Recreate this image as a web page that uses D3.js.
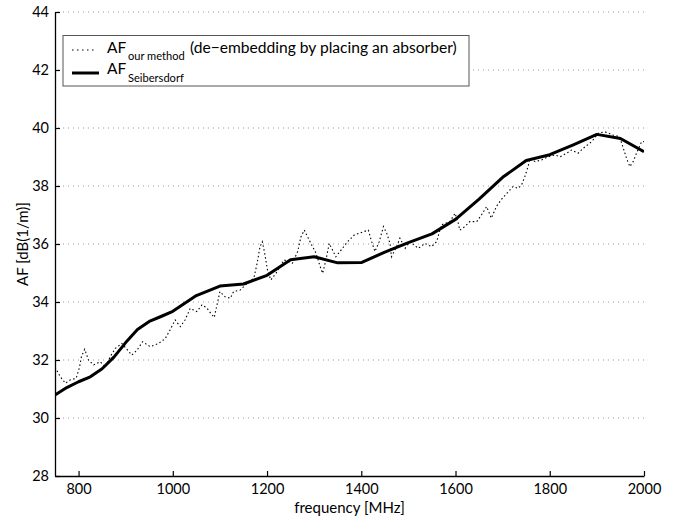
<!DOCTYPE html>
<html><head><meta charset="utf-8">
<script src="https://cdn.jsdelivr.net/npm/d3@7"></script>
<style>body{margin:0;background:#fff;} svg text{font-family:"Lato","Open Sans",sans-serif;fill:#000;}</style>
</head><body>
<svg id="c" width="684" height="518"></svg>
<script>
// ---- data ----
const freqRef = [750,775,800,825,850,875,900,925,950,975,1000,1050,1100,1150,1200,1250,1300,1350,1400,1450,1500,1550,1600,1650,1700,1750,1800,1850,1900,1950,2000];
const afRef = [30.79,31.05,31.25,31.42,31.7,32.1,32.6,33.05,33.33,33.5,33.68,34.22,34.55,34.62,34.92,35.46,35.56,35.35,35.36,35.72,36.05,36.35,36.85,37.55,38.3,38.88,39.08,39.42,39.78,39.64,39.18];
const freqOur = [750,761,772,782,795,802,806,813,821,832,846,857,867,878,892,913,924,936,952,970,984,994,1005,1016,1026,1037,1051,1062,1072,1081,1088,1093,1100,1111,1122,1129,1143,1154,1172,1179,1185,1190,1195,1201,1208,1219,1236,1254,1265,1272,1279,1286,1293,1304,1314,1318,1325,1332,1339,1346,1357,1371,1385,1390,1404,1415,1422,1429,1438,1447,1454,1461,1464,1475,1482,1493,1503,1521,1535,1549,1560,1570,1588,1599,1606,1609,1620,1630,1645,1655,1666,1676,1687,1698,1712,1722,1733,1740,1747,1754,1758,1769,1783,1797,1811,1822,1836,1846,1860,1871,1889,1903,1917,1934,1948,1955,1963,1970,1977,1984,1995,2000];
const afOur = [31.75,31.43,31.2,31.31,31.37,31.75,32.11,32.37,32.0,31.83,31.94,31.75,32.11,32.4,32.57,32.17,32.34,32.63,32.46,32.57,32.74,33.03,33.38,33.15,33.38,33.78,33.67,33.9,33.8,33.6,33.47,33.84,34.36,34.18,34.13,34.36,34.41,34.59,34.82,35.34,35.9,36.08,35.68,35.1,34.76,34.99,35.45,35.34,35.74,36.25,36.48,36.25,36.02,35.68,35.16,34.99,35.45,36.02,35.79,35.56,35.79,36.08,36.31,36.34,36.42,36.48,36.08,35.74,36.08,36.6,36.37,36.02,35.56,35.91,36.2,35.85,36.08,35.85,36.02,35.91,36.08,36.66,36.77,37.06,36.71,36.48,36.6,36.77,36.77,37.0,37.29,36.89,37.3,37.55,37.8,37.98,37.92,38.03,38.32,38.67,38.95,38.84,38.9,39.01,39.07,39.01,39.13,39.24,39.13,39.3,39.53,39.82,39.87,39.76,39.7,39.36,38.95,38.67,38.84,39.13,39.53,39.53];
const xTicks = [800,1000,1200,1400,1600,1800,2000];
const yTicks = [28,30,32,34,36,38,40,42,44];

// ---- layout ----
const svg = d3.select('#c');
const L = 55, R = 644, T = 12, B = 476;
const x = d3.scaleLinear().domain([750,2000]).range([L,R]);
const y = d3.scaleLinear().domain([28,44]).range([B,T]);

svg.append('defs').append('clipPath').attr('id','clip')
  .append('rect').attr('x',L).attr('y',T).attr('width',R-L).attr('height',B-T);

// grid
svg.append('g').selectAll('line').data(yTicks.filter(d=>d>28)).join('line')
  .attr('x1',L+3).attr('x2',R).attr('y1',d=>y(d)).attr('y2',d=>y(d))
  .attr('stroke','#999').attr('stroke-width',1).attr('stroke-dasharray','1,4');

// axes
const fmt = d3.format('d');
const ax = svg.append('g').attr('transform',`translate(0,${B})`)
  .call(d3.axisBottom(x).tickValues(xTicks).tickFormat(fmt).tickSizeInner(-5).tickSizeOuter(0).tickPadding(8));
const ay = svg.append('g').attr('transform',`translate(${L},0)`)
  .call(d3.axisLeft(y).tickValues(yTicks).tickFormat(fmt).tickSizeInner(-5).tickSizeOuter(0).tickPadding(6));
[ax,ay].forEach(g=>{
  g.select('.domain').attr('stroke','#000').attr('stroke-width',1.3);
  g.selectAll('.tick line').attr('stroke','#000').attr('stroke-width',1.2);
  g.selectAll('.tick text').attr('font-size',14.5).style('font-family','Lato, "Open Sans", sans-serif');
});

// lines
const line = d3.line().x(d=>x(d[0])).y(d=>y(d[1]));
const plot = svg.append('g').attr('clip-path','url(#clip)');
plot.append('path').datum(freqOur.map((f,i)=>[f,afOur[i]]))
  .attr('d',line).attr('fill','none').attr('stroke','#000').attr('stroke-width',1.1)
  .attr('stroke-dasharray','1.5,2.5');
plot.append('path').datum(freqRef.map((f,i)=>[f,afRef[i]]))
  .attr('d',line).attr('fill','none').attr('stroke','#000').attr('stroke-width',3)
  .attr('stroke-linejoin','round');

// axis labels
svg.append('text').attr('x',(L+R)/2).attr('y',513).attr('text-anchor','middle')
  .attr('font-size',15).text('frequency [MHz]');
svg.append('text').attr('transform',`translate(28,${(T+B)/2}) rotate(-90)`).attr('text-anchor','middle')
  .attr('font-size',15).text('AF [dB(1/m)]');

// legend
const lg = svg.append('g');
lg.append('rect').attr('x',63).attr('y',35.5).attr('width',406).attr('height',50.5)
  .attr('fill','#fff').attr('stroke','#555').attr('stroke-width',1);
lg.append('line').attr('x1',72).attr('x2',97).attr('y1',50).attr('y2',50)
  .attr('stroke','#000').attr('stroke-width',1).attr('stroke-dasharray','1.5,3.5');
lg.append('line').attr('x1',72).attr('x2',99).attr('y1',73).attr('y2',73)
  .attr('stroke','#000').attr('stroke-width',3);
lg.append('text').attr('x',107).attr('y',53).attr('font-size',15.5).text('AF');
lg.append('text').attr('x',128).attr('y',60).attr('font-size',11.1).text('our method');
lg.append('text').attr('x',190).attr('y',53).attr('font-size',15.6).text('(de\u2212embedding by placing an absorber)');
lg.append('text').attr('x',107).attr('y',74).attr('font-size',15.5).text('AF');
lg.append('text').attr('x',128).attr('y',82).attr('font-size',11.1).text('Seibersdorf');
</script>
</body></html>
